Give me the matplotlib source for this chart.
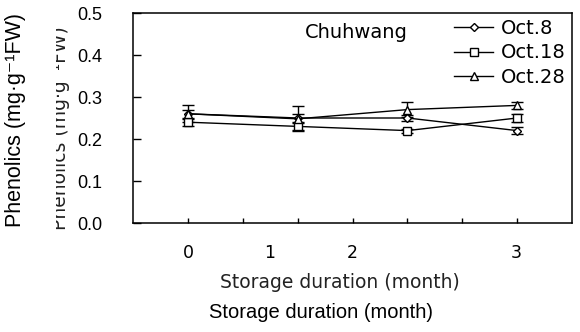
import matplotlib.pyplot as plt
from matplotlib.lines import Line2D
from matplotlib.patches import Rectangle

# data
months = [0, 1, 2, 3]
month_labels = ['0', '1', '2', '3']
oct8 = [0.26, 0.25, 0.25, 0.22]
oct8_err = [0.010, 0.010, 0.008, 0.008]
oct18 = [0.24, 0.23, 0.22, 0.25]
oct18_err = [0.008, 0.008, 0.005, 0.010]
oct28 = [0.26, 0.248, 0.27, 0.28]
oct28_err = [0.020, 0.030, 0.018, 0.009]
names = ['Oct.8', 'Oct.18', 'Oct.28']
yticks = [0.0, 0.1, 0.2, 0.3, 0.4, 0.5]

W, H = 580, 332
def fx(x):
    return x / W
def fy(y):
    return 1 - y / H

fig = plt.figure(figsize=(5.8, 3.32), dpi=100)
ax = fig.add_axes([fx(133), fy(223), fx(572) - fx(133), fy(13) - fy(223)])

markers = ['D', 's', '^']
msizes = [4.5, 5.5, 6]
handles = []
for vals, errs, m, ms, name in zip([oct8, oct18, oct28], [oct8_err, oct18_err, oct28_err],
                                   markers, msizes, names):
    ax.errorbar(months, vals, yerr=errs, color='black', lw=1.0, marker=m, ms=ms,
                mfc='white', mec='black', mew=1, capsize=4.3, capthick=1, elinewidth=1)
    handles.append(Line2D([], [], color='black', lw=1.0, marker=m, ms=ms,
                          mfc='white', mec='black', mew=1, label=name))

ax.set_xlim(-0.5, 3.5)
ax.set_ylim(0, 0.5)
ax.set_xticks([0, 0.5, 1, 1.5, 2, 2.5, 3])
ax.set_xticklabels([])
ax.set_yticks(yticks)
ax.set_yticklabels(['%.1f' % v for v in yticks], fontsize=13, family='Liberation Sans')
ax.tick_params(axis='x', direction='in', length=3.6, width=1)
ax.tick_params(axis='y', direction='in', length=5.8, width=1, pad=22)
for s in ax.spines.values():
    s.set_linewidth(1.1)

ax.legend(handles=handles, loc='upper right', bbox_to_anchor=(fx(566), fy(19)),
          bbox_transform=fig.transFigure, frameon=False,
          handlelength=2.0, handletextpad=0.42, labelspacing=0.28,
          borderpad=0, borderaxespad=0, prop={'family': 'DejaVu Sans', 'size': 14})

fig.text(fx(356), fy(33), 'Chuhwang', fontsize=14, family='DejaVu Sans',
         ha='center', va='center')

# month labels sit off the tick marks in the source
label_x = [188, 270, 352, 516]
for lx, lab in zip(label_x, month_labels):
    fig.text(fx(lx), fy(253), lab, fontsize=12.5, family='DejaVu Sans',
             ha='center', va='center')

fig.text(fx(340), fy(283), 'Storage duration (month)', fontsize=13.5,
         family='DejaVu Sans', ha='center', va='center', color='#222222')
fig.text(fx(321), fy(312), 'Storage duration (month)', fontsize=14.5,
         family='Liberation Sans', ha='center', va='center')

ylab = 'Phenolics (mg\u00b7g\u207b\u00b9FW)'
# faint cropped y label behind the real one
fig.text(fx(61), fy(128), ylab, fontsize=13.5, family=['DejaVu Sans'],
         rotation=90, ha='center', va='center', color='#222222')
fig.patches.append(Rectangle((fx(33), 0), fx(56) - fx(33), 1, transform=fig.transFigure,
                             facecolor='white', edgecolor='none', zorder=5))
fig.text(fx(16), fy(120), ylab, fontsize=15.5, family=['Liberation Sans', 'DejaVu Sans'],
         rotation=90, ha='center', va='center', zorder=6)

fig.savefig('out.png', dpi=100)
